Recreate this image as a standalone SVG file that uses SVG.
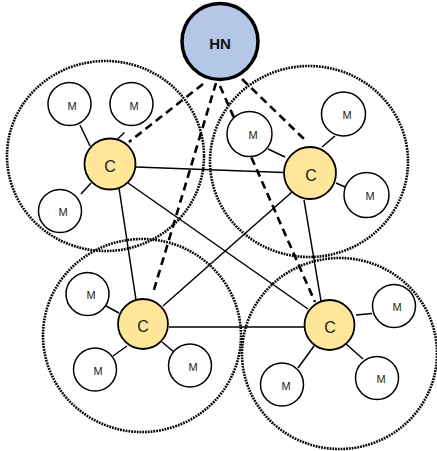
<svg xmlns="http://www.w3.org/2000/svg" width="437" height="451" viewBox="0 0 437 451">
  <style>
    .zone { fill: none; stroke: #000; stroke-width: 2.6; stroke-dasharray: 1.8 1; }
    .link { stroke: #000; stroke-width: 1.5; fill: none; }
    .ctl { stroke: #000; stroke-width: 2.6; stroke-dasharray: 8 5; fill: none; }
    .m circle { fill: #fff; stroke: #000; stroke-width: 1.5; }
    .c circle { fill: #ffe699; stroke: #000; stroke-width: 1.8; }
    .hn circle { fill: #b4c7e7; stroke: #000; stroke-width: 3.5; }
    text { font-family: "Liberation Sans", "Open Sans", sans-serif; text-anchor: middle; dominant-baseline: central; fill: #222; }
    .m text { font-size: 11px; }
    .c text { font-size: 16px; }
    .hn text { font-size: 15px; font-weight: bold; fill: #111; }
  </style>

  <!-- cluster zones -->
  <g id="zones">
    <ellipse class="zone" cx="105.5" cy="156" rx="98.5" ry="95"/>
    <ellipse class="zone" cx="309" cy="161.5" rx="99" ry="95.5"/>
    <ellipse class="zone" cx="142" cy="335.5" rx="99" ry="96.5"/>
    <ellipse class="zone" cx="339.5" cy="353.5" rx="97.5" ry="95.5"/>
  </g>

  <!-- connectors -->
  <g id="connectors">
    <!-- member links -->
    <line class="link" x1="90" y1="146" x2="80" y2="125"/>
    <line class="link" x1="116" y1="140.5" x2="124.5" y2="132.5"/>
    <line class="link" x1="91" y1="183" x2="81" y2="194"/>
    <line class="link" x1="268" y1="149" x2="285" y2="157"/>
    <line class="link" x1="322" y1="147" x2="335" y2="136"/>
    <line class="link" x1="336" y1="183" x2="345" y2="187"/>
    <line class="link" x1="106" y1="306" x2="119" y2="313"/>
    <line class="link" x1="113" y1="356" x2="127" y2="346"/>
    <line class="link" x1="162" y1="342" x2="174" y2="352"/>
    <line class="link" x1="356" y1="315" x2="372" y2="313.5"/>
    <line class="link" x1="298" y1="368" x2="314" y2="346"/>
    <line class="link" x1="345" y1="343" x2="363" y2="359"/>
    <!-- cluster head links -->
    <line class="link" x1="136" y1="167" x2="284" y2="172.5"/>
    <line class="link" x1="119" y1="188" x2="136" y2="300"/>
    <line class="link" x1="128" y1="183" x2="308" y2="309"/>
    <line class="link" x1="292" y1="192" x2="163" y2="306"/>
    <line class="link" x1="304" y1="200" x2="321" y2="301"/>
    <line class="link" x1="169" y1="327" x2="304" y2="327"/>
    <!-- head node control links -->
    <line class="ctl" x1="203" y1="84" x2="129" y2="142"/>
    <line class="ctl" x1="216" y1="83" x2="153" y2="293"/>
    <line class="ctl" x1="220" y1="86" x2="315" y2="302"/>
    <line class="ctl" x1="242" y1="79" x2="304" y2="139"/>
  </g>

  <!-- head node -->
  <g id="hn" class="hn">
    <circle cx="220" cy="41.5" r="38"/>
    <text x="220" y="43">HN</text>
  </g>

  <!-- cluster heads -->
  <g id="c1" class="c"><circle cx="110" cy="164" r="25.5"/><text x="110" y="166">C</text></g>
  <g id="c2" class="c"><circle cx="310" cy="173" r="26"/><text x="311" y="175">C</text></g>
  <g id="c3" class="c"><circle cx="143" cy="324" r="25"/><text x="143" y="326">C</text></g>
  <g id="c4" class="c"><circle cx="329.5" cy="325" r="25"/><text x="330" y="327">C</text></g>

  <!-- members -->
  <g id="m1" class="m"><circle cx="69.5" cy="104" r="21.5"/><text x="72" y="106">M</text></g>
  <g id="m2" class="m"><circle cx="131.5" cy="104" r="21.5"/><text x="134" y="106">M</text></g>
  <g id="m3" class="m"><circle cx="60" cy="211" r="21.5"/><text x="63" y="212">M</text></g>
  <g id="m4" class="m"><circle cx="249.5" cy="134" r="22.5"/><text x="253" y="135">M</text></g>
  <g id="m5" class="m"><circle cx="343.5" cy="114" r="22"/><text x="347" y="115">M</text></g>
  <g id="m6" class="m"><circle cx="366.5" cy="195" r="22.5"/><text x="370" y="196">M</text></g>
  <g id="m7" class="m"><circle cx="87.5" cy="294" r="21.5"/><text x="91" y="295">M</text></g>
  <g id="m8" class="m"><circle cx="95" cy="369.5" r="21.5"/><text x="98" y="371">M</text></g>
  <g id="m9" class="m"><circle cx="190" cy="365.5" r="21.5"/><text x="193" y="367">M</text></g>
  <g id="m10" class="m"><circle cx="394" cy="306" r="21.5"/><text x="397" y="307">M</text></g>
  <g id="m11" class="m"><circle cx="282" cy="384.5" r="21.5"/><text x="286" y="386">M</text></g>
  <g id="m12" class="m"><circle cx="377" cy="378" r="21.5"/><text x="381" y="379">M</text></g>
</svg>
